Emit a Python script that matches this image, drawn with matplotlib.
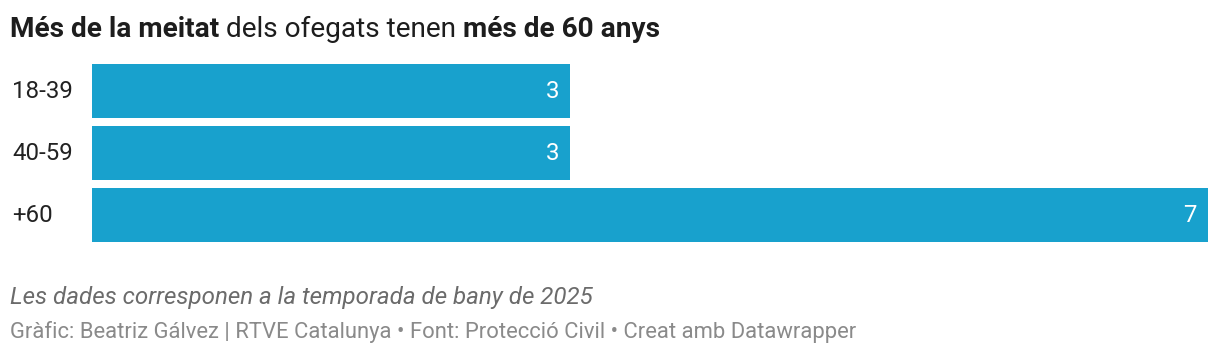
import matplotlib.pyplot as plt

plt.rcParams['font.family'] = ['Roboto', 'DejaVu Sans']

categories = ['18-39', '40-59', '+60']
values = [3, 3, 7]

W, H = 1220, 356
fig = plt.figure(figsize=(W / 100, H / 100), dpi=100)

# plot area in pixels: x 92..1208, y 64..242
ax = fig.add_axes([92 / W, 1 - 242 / H, (1208 - 92) / W, (242 - 64) / H])
bar_h = 54 / 62
ax.barh(range(len(values)), values, height=bar_h, color='#18a1cd')
ax.set_xlim(0, max(values))
ax.set_ylim(len(values) - 0.5 - (1 - bar_h) / 2, -0.5 + (1 - bar_h) / 2)
ax.axis('off')

for i, (c, v) in enumerate(zip(categories, values)):
    ax.annotate(str(v), (v, i), xytext=(-11, 0), textcoords='offset pixels',
                ha='right', va='center', color='white', fontsize=17.3)
    ax.annotate(c, (12 / W, i), xycoords=('figure fraction', 'data'),
                ha='left', va='center', color='#222222', fontsize=17.3)

# title, mixed bold/regular
y_t = 1 - 37 / H
fs_t = 20.2
t1 = fig.text(10 / W, y_t, 'Més de la meitat', fontsize=fs_t, fontweight='bold',
              color='#1d1d1d', va='baseline')
t2 = fig.text(0, 0, ' dels ofegats tenen ', fontsize=fs_t, color='#1d1d1d',
              va='baseline')
t3 = fig.text(0, 0, 'més de 60 anys', fontsize=fs_t, fontweight='bold',
              color='#1d1d1d', va='baseline')
fig.canvas.draw()
r = fig.canvas.get_renderer()
x = t1.get_window_extent(r).x1
t2.set_position((x / W, y_t))
x = t2.get_window_extent(r).x1
t3.set_position((x / W, y_t))

fig.text(10 / W, 1 - 304 / H, 'Les dades corresponen a la temporada de bany de 2025',
         fontsize=17.4, style='italic', color='#6b6b6b', va='baseline')
fig.text(10 / W, 1 - 338 / H,
         'Gràfic: Beatriz Gálvez | RTVE Catalunya • Font: Protecció Civil • Creat amb Datawrapper',
         fontsize=15.85, color='#8a8a8a', va='baseline')

fig.savefig('out.png', dpi=100, facecolor='white')
